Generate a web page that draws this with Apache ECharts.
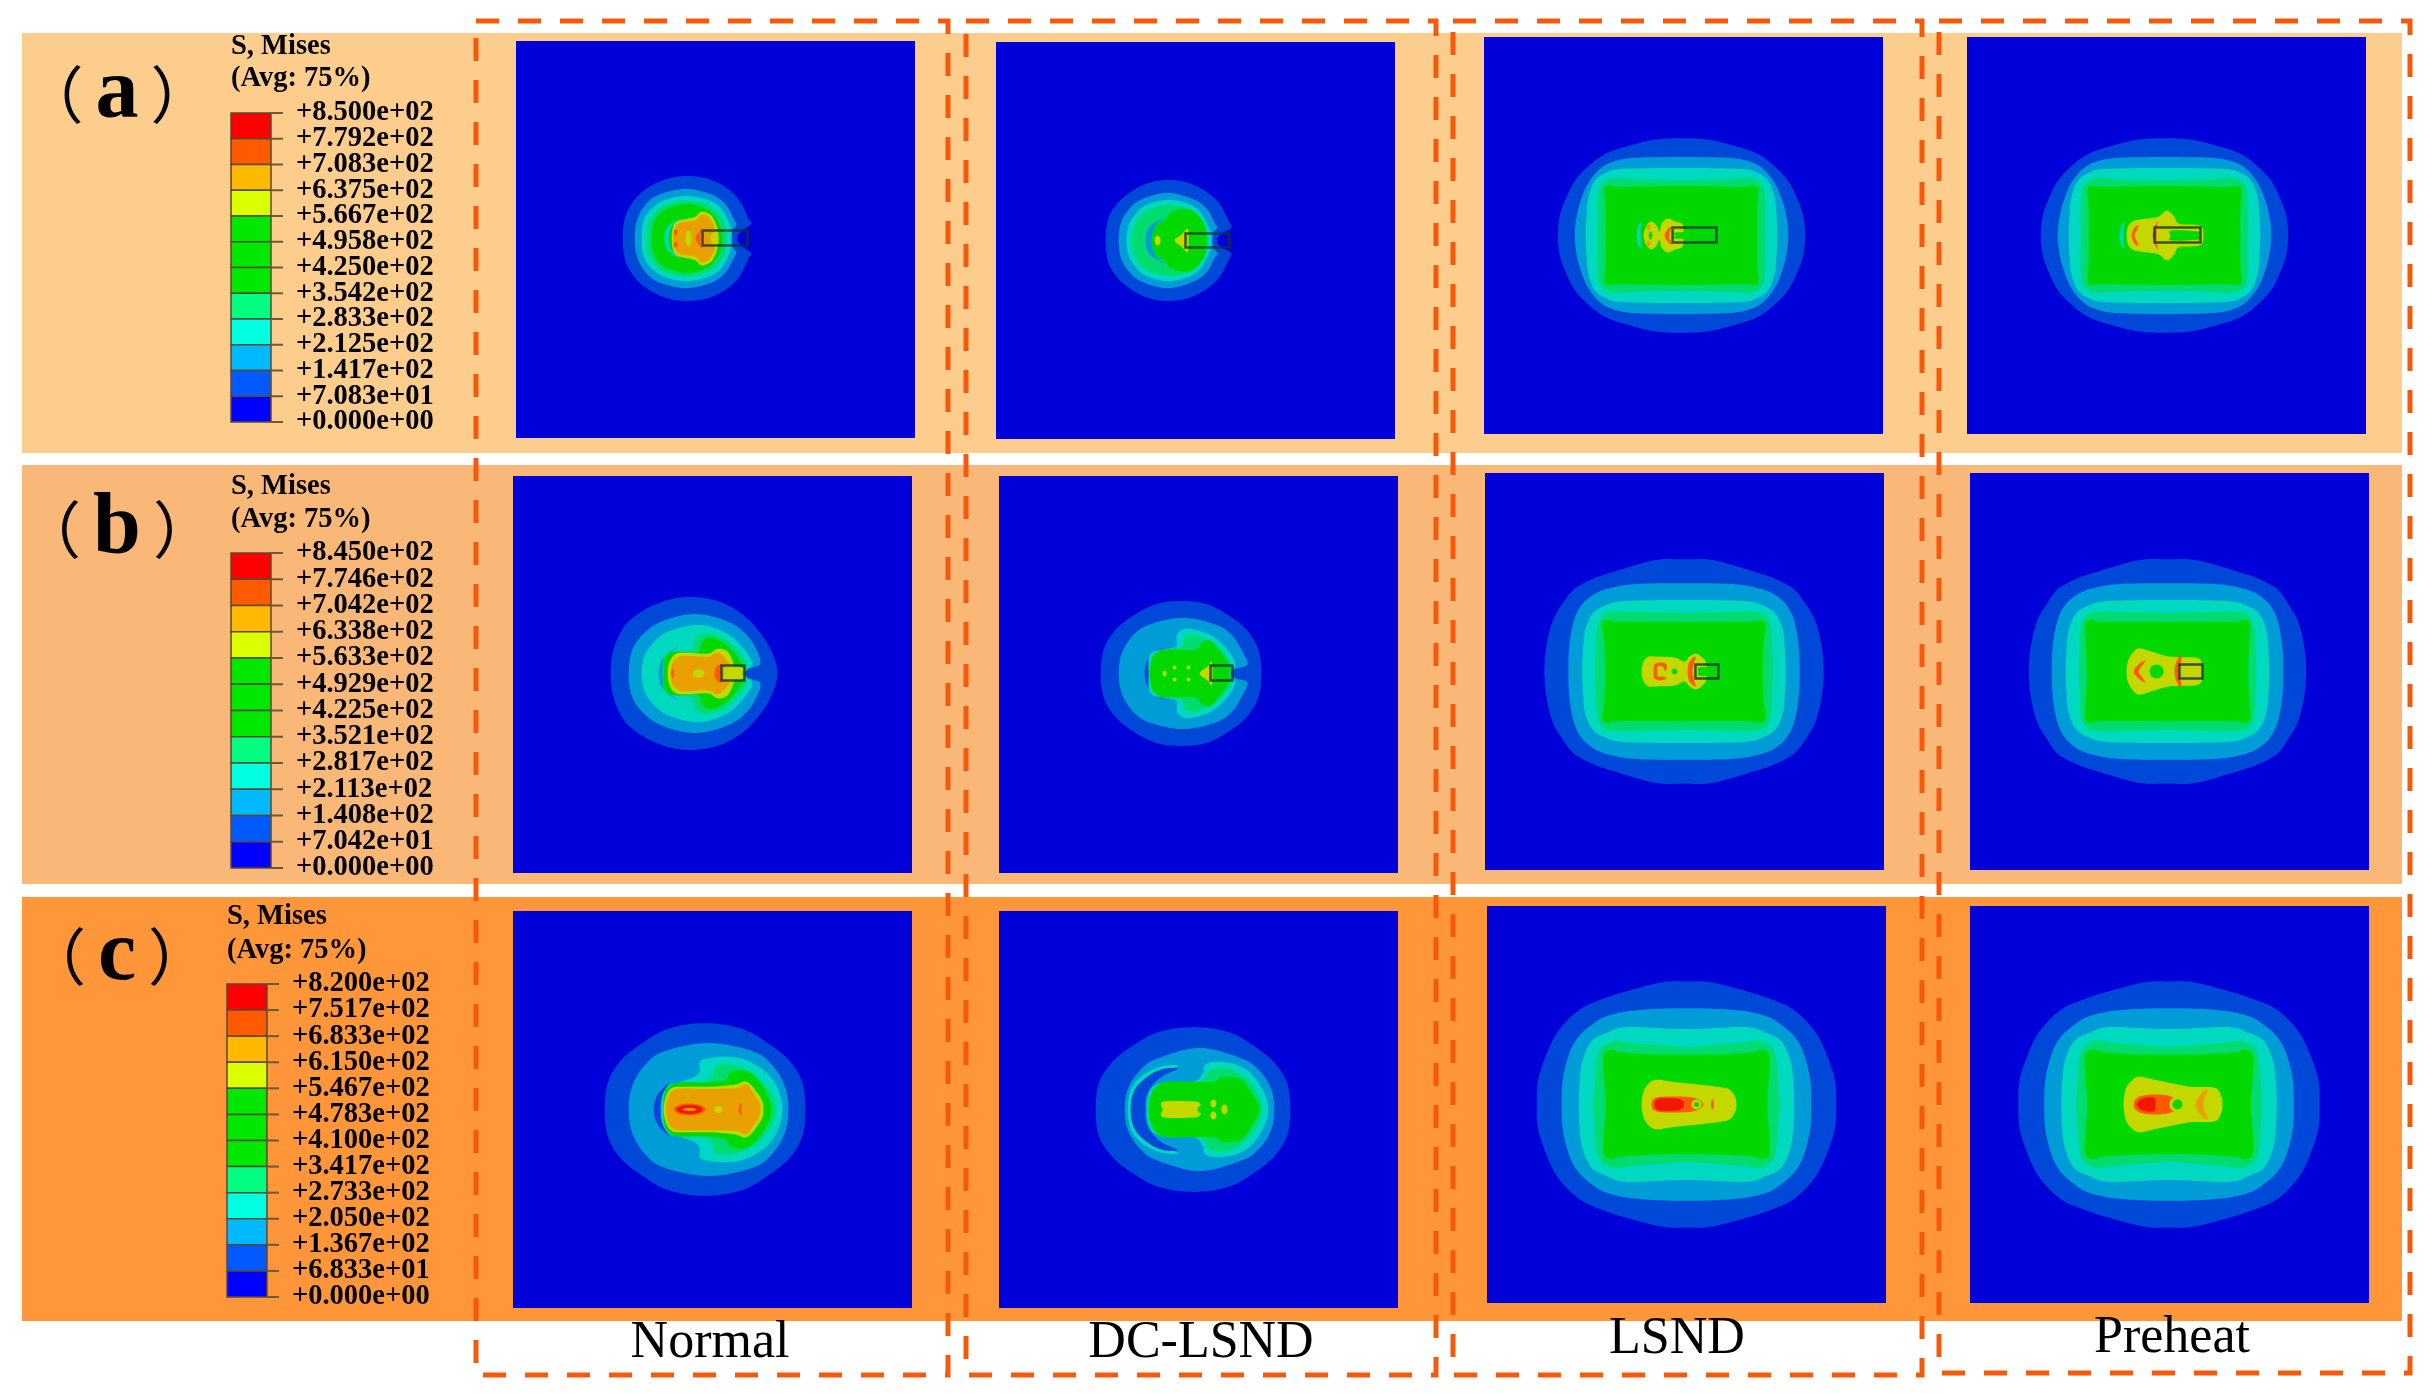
<!DOCTYPE html>
<html><head><meta charset="utf-8">
<style>html,body{margin:0;padding:0;background:#fff}#c{width:2436px;height:1394px}</style>
<script src="https://cdn.jsdelivr.net/npm/echarts@6/dist/echarts.min.js"></script>
</head><body><div id="c"></div>
<script>
// ---------- text and legend values ----------
const columnNames = ['Normal', 'DC-LSND', 'LSND', 'Preheat'];
const rowNames = ['a', 'b', 'c'];
const legendTitle = 'S, Mises';
const legendSub = '(Avg: 75%)';
const ticksA = ['+8.500e+02','+7.792e+02','+7.083e+02','+6.375e+02','+5.667e+02','+4.958e+02','+4.250e+02','+3.542e+02','+2.833e+02','+2.125e+02','+1.417e+02','+7.083e+01','+0.000e+00'];
const ticksB = ['+8.450e+02','+7.746e+02','+7.042e+02','+6.338e+02','+5.633e+02','+4.929e+02','+4.225e+02','+3.521e+02','+2.817e+02','+2.113e+02','+1.408e+02','+7.042e+01','+0.000e+00'];
const ticksC = ['+8.200e+02','+7.517e+02','+6.833e+02','+6.150e+02','+5.467e+02','+4.783e+02','+4.100e+02','+3.417e+02','+2.733e+02','+2.050e+02','+1.367e+02','+6.833e+01','+0.000e+00'];
const legendCells = ['#FF0000','#FF5A00','#FFB900','#DCFF00','#00E800','#00E800','#00E800','#00FF80','#00FFE0','#00B9FF','#005AFF','#0000FF'];
const contourColors = ['#0000D8','#0048D8','#009CD8','#00D8C0','#00DC70','#00D800','#C4D800','#E8A000','#FF5A00','#F01800'];

// ---------- contour outlines, in model units on a 0-400 plate ----------
// h: [h, colour, centre y, outline x/offset-y, mirrored about centre y]
// q: [q, colour, centre x, centre y, quarter outline, mirrored both ways]
// e: [e, colour, x, y, rx, ry]   s: [s, x0, x1, y0, y1]
const contourA1 = [
 ['h',1,199,[[107,0],[109,-20],[116,-35],[128,-48],[148,-59],[172,-63],[196,-59],[215,-48],[226,-35],[233,-20],[236,-15],[228,-9],[222,-3],[222,0]]],
 ['h',2,199,[[119,0],[121,-17],[129,-33],[143,-44],[170,-50],[197,-44],[211,-33],[218,-20],[221,-14],[217,-8],[216,0]]],
 ['h',3,199,[[126,0],[128,-18],[137,-31],[150,-39],[171,-43],[192,-39],[205,-31],[213,-17],[216,-8],[216,0]]],
 ['h',4,199,[[131,0],[133,-16],[141,-28],[153,-35],[171,-38],[189,-35],[201,-27],[209,-15],[211,0]]],
 ['h',5,199,[[136,0],[138,-15],[145,-26],[156,-32],[171,-35],[186,-32],[197,-25],[204,-14],[207,0]]],
 ['h',3,199,[[149,0],[152,-12],[166,-21],[156,-12],[153,0]]],
 ['h',6,199,[[156,0],[158,-13],[163,-18],[172,-20],[180,-22],[186,-27],[196,-23],[202,-10],[203,0]]],
 ['h',7,199,[[158,0],[160,-12],[165,-16],[172,-17],[181,-19],[186,-24],[194,-21],[199,-10],[199,0]]],
 ['e',6,199,199,4,6],['e',6,173,199,3,8],
 ['e',8,160,193,2,3],['e',8,160,205,2,3],
 ['h',8,199,[[180,0],[183,-6],[187,-10],[185,-5],[185,0]]],
 ['s',187,232,191,206]
];
const contourA2 = [
 ['h',1,200,[[110,0],[112,-20],[119,-34],[131,-46],[150,-57],[173,-61],[196,-57],[215,-46],[226,-34],[233,-20],[236,-13],[228,-8],[222,-3],[222,0]]],
 ['h',2,200,[[123,0],[125,-17],[133,-31],[145,-41],[172,-48],[199,-41],[212,-31],[219,-18],[222,-13],[218,-8],[217,0]]],
 ['h',3,200,[[131,0],[133,-15],[140,-27],[151,-36],[173,-41],[195,-36],[206,-27],[213,-14],[216,-7],[216,0]]],
 ['h',4,200,[[136,0],[138,-14],[145,-25],[155,-32],[174,-36],[193,-32],[203,-24],[210,-13],[212,0]]],
 ['h',2,200,[[150,0],[154,-14],[171,-24],[160,-15],[156,0]]],
 ['h',5,200,[[156,0],[160,-14],[170,-21],[172,-25],[179,-30],[195,-31],[207,-20],[211,-8],[211,0]]],
 ['e',6,162,200,3,5],
 ['h',6,200,[[179,0],[186,-6],[192,-12],[193,-5],[193,0]]],
 ['s',190,234,193,207]
];
const contourA3 = [
 ['q',1,198,200,[[124,0],[122,20],[116,37],[107,55],[93,70],[80,80],[64,87],[30,96],[0,98]]],
 ['q',2,198,200,[[107,0],[105,20],[100,38],[94,52],[84,65],[72,73],[50,78],[0,79]]],
 ['q',3,198,200,[[96,0],[95,25],[93,40],[87,55],[76,63],[60,67],[0,68]]],
 ['q',4,198,200,[[84,0],[84,30],[83,45],[78,54],[68,58],[50,57],[0,56]]],
 ['q',5,198,200,[[76,0],[76,25],[77,47],[72,50],[60,49],[0,50]]],
 ['h',3,200,[[153,0],[155,-10],[158,-13],[157,-8],[157,0]]],
 ['h',6,200,[[160,0],[163,-10],[168,-14],[173,-10],[176,-4],[178,-12],[184,-17],[192,-14],[199,-11],[200,0]]],
 ['e',5,167,200,2,4],
 ['e',7,165,192,2,3],['e',7,165,208,2,3],
 ['h',8,200,[[181,0],[184,-6],[188,-9],[186,-3],[186,0]]],
 ['h',5,200,[[192,0],[192,-3],[228,-3],[228,0]]],
 ['s',189,233,192,207]
];
const contourA4 = [
 ['q',1,198,200,[[124,0],[122,20],[116,37],[107,55],[93,70],[80,80],[64,87],[30,96],[0,98]]],
 ['q',2,198,200,[[107,0],[105,20],[100,38],[94,52],[84,65],[72,73],[50,78],[0,79]]],
 ['q',3,198,200,[[96,0],[95,25],[93,40],[87,55],[76,63],[60,67],[0,68]]],
 ['q',4,198,200,[[84,0],[84,30],[83,45],[78,54],[68,58],[50,57],[0,56]]],
 ['q',5,198,200,[[76,0],[76,25],[77,47],[72,50],[60,49],[0,50]]],
 ['h',3,200,[[153,0],[155,-10],[158,-13],[157,-8],[157,0]]],
 ['h',6,200,[[160,0],[162,-10],[168,-15],[180,-17],[192,-19],[200,-25],[207,-20],[212,-12],[225,-11],[235,-9],[237,0]]],
 ['h',8,200,[[165,0],[168,-8],[172,-10],[170,-5],[168,0]]],
 ['h',8,200,[[186,0],[188,-8],[191,-14],[190,-5],[190,0]]],
 ['h',5,200,[[204,0],[205,-5],[232,-4],[232,0]]],
 ['s',188,234,192,207]
];
const contourB1 = [
 ['h',1,199,[[98,0],[101,-25],[112,-48],[130,-63],[155,-74],[181,-77],[208,-72],[232,-58],[250,-38],[261,-18],[265,0]]],
 ['h',2,199,[[116,0],[119,-22],[129,-38],[148,-52],[182,-60],[216,-52],[235,-38],[245,-22],[248,-10],[240,-6],[234,-4],[232,0]]],
 ['h',3,199,[[129,0],[131,-15],[138,-28],[155,-42],[187,-49],[215,-40],[232,-24],[240,-10],[234,-4],[232,0]]],
 ['h',2,199,[[146,0],[150,-15],[165,-27],[154,-15],[152,0]]],
 ['h',4,199,[[150,0],[152,-18],[162,-22],[178,-24],[183,-36],[195,-41],[215,-33],[230,-17],[235,-6],[232,0]]],
 ['h',5,199,[[151,0],[153,-17],[165,-22],[185,-21],[190,-32],[200,-36],[215,-28],[226,-15],[232,-4],[230,0]]],
 ['h',6,199,[[155,0],[157,-12],[162,-19],[170,-21],[195,-20],[205,-25],[215,-22],[221,-10],[222,0]]],
 ['h',7,199,[[158,0],[160,-11],[165,-16],[172,-18],[195,-17],[205,-21],[213,-15],[218,-7],[219,0]]],
 ['e',6,186,199,6,4],
 ['e',8,160,199,1.5,5],
 ['h',8,199,[[202,0],[204,-7],[209,-9],[208,-3],[208,0]]],
 ['h',6,199,[[212,0],[212,-6],[230,-6],[230,0]]],
 ['s',209,232,191,206]
];
const contourB2 = [
 ['h',1,199,[[102,0],[105,-24],[116,-43],[134,-58],[158,-70],[183,-73],[208,-70],[231,-58],[249,-43],[260,-24],[263,0]]],
 ['h',2,199,[[120,0],[123,-20],[134,-38],[150,-49],[184,-56],[218,-49],[234,-38],[245,-20],[249,-9],[238,-5],[232,0]]],
 ['h',1,199,[[146,0],[150,-15],[165,-27],[154,-15],[151,0]]],
 ['h',3,199,[[150,0],[152,-20],[170,-25],[178,-28],[179,-40],[191,-45],[215,-37],[232,-20],[237,-8],[232,-3],[232,0]]],
 ['h',4,199,[[151,0],[154,-18],[170,-24],[183,-27],[187,-37],[200,-38],[222,-25],[233,-8],[232,0]]],
 ['h',5,199,[[151,0],[153,-14],[158,-21],[166,-24],[195,-24],[203,-30],[212,-33],[225,-18],[232,-6],[230,0]]],
 ['e',6,166,199,2,3],['e',6,176,193,2,2],['e',6,176,205,2,2],['e',6,190,193,2,2],['e',6,190,205,2,2],
 ['h',6,199,[[201,0],[209,-7],[213,-12],[214,-5],[214,0]]],
 ['s',212,234,191,206]
];
const contourB3 = [
 ['q',1,199.5,200,[[140,0],[138,25],[132,50],[122,68],[110,83],[92,93],[72,100],[30,112],[0,113]]],
 ['q',2,199.5,200,[[116,0],[115,25],[111,49],[104,65],[93,76],[78,83],[50,88],[0,89]]],
 ['q',3,199.5,200,[[102,0],[101,25],[99,42],[92,58],[80,66],[60,71],[0,72]]],
 ['q',4,199.5,200,[[89,0],[88,30],[87,45],[81,57],[70,60],[50,60],[0,59]]],
 ['q',5,199.5,200,[[79,0],[80,30],[82,47],[76,52],[65,50],[0,50]]],
 ['h',6,200,[[157,0],[159,-10],[164,-15],[172,-15],[190,-14],[200,-10],[205,-15],[212,-18],[220,-12],[222,-6],[222,0]]],
 ['h',8,200,[[169,0],[170,-7],[176,-9],[182,-7],[181,0],[178,-5],[173,-5],[173,0]]],
 ['h',8,200,[[203,0],[205,-10],[211,-15],[209,-7],[208,0]]],
 ['e',5,190,200,3,3],
 ['h',5,200,[[214,0],[214,-4],[224,-4],[224,0]]],
 ['s',211,234,193,207]
];
const contourB4 = [
 ['q',1,198,200,[[139,0],[137,25],[131,50],[121,68],[110,83],[92,93],[72,100],[30,112],[0,113]]],
 ['q',2,198,200,[[116,0],[115,25],[111,49],[104,65],[93,76],[78,83],[50,88],[0,89]]],
 ['q',3,198,200,[[102,0],[101,25],[99,42],[92,58],[80,66],[60,71],[0,72]]],
 ['q',4,198,200,[[89,0],[88,30],[87,45],[81,57],[70,60],[50,60],[0,59]]],
 ['q',5,198,200,[[81,0],[82,30],[83,47],[77,52],[65,50],[0,50]]],
 ['h',6,200,[[157,0],[159,-12],[168,-23],[182,-20],[200,-15],[225,-14],[232,-10],[233,0]]],
 ['h',8,200,[[164,0],[170,-8],[176,-11],[172,-5],[169,0]]],
 ['h',8,200,[[205,0],[207,-10],[212,-17],[211,-7],[210,0]]],
 ['e',5,187,200,7,7],
 ['s',210,233,193,207]
];
const contourC1 = [
 ['h',1,200,[[92,0],[95,-27],[107,-48],[127,-65],[155,-81],[192,-87],[230,-81],[258,-65],[278,-48],[290,-27],[293,0]]],
 ['h',2,200,[[116,0],[119,-22],[130,-42],[150,-58],[196,-67],[242,-58],[262,-42],[273,-22],[276,0]]],
 ['h',3,200,[[148,0],[152,-22],[165,-27],[180,-32],[187,-38],[188,-49],[205,-53],[226,-52],[245,-44],[258,-33],[267,-17],[270,0]]],
 ['h',1,200,[[141,0],[145,-15],[157,-27],[150,-15],[148,0]]],
 ['h',4,200,[[150,0],[153,-20],[165,-26],[190,-28],[200,-34],[204,-44],[220,-45],[240,-37],[250,-28],[260,-15],[264,0]]],
 ['h',5,200,[[151,0],[153,-18],[165,-27],[195,-27],[213,-30],[219,-38],[236,-38],[250,-24],[257,-10],[259,0]]],
 ['h',6,200,[[151,0],[154,-15],[160,-22],[170,-23],[200,-23],[222,-25],[234,-28],[244,-18],[250,-8],[251,0]]],
 ['h',7,200,[[153,0],[156,-14],[162,-20],[170,-21],[205,-21],[225,-22],[234,-25],[242,-15],[247,-7],[248,0]]],
 ['e',8,177,200,16,6],['e',9,177,200,13,4.5],['e',7,177,200,7,1.5],
 ['e',6,206,200,4,3.5],
 ['h',8,200,[[226,0],[227,-4],[229,-6],[229,0]]]
];
const contourC2 = [
 ['h',1,200,[[97,0],[100,-26],[112,-46],[132,-63],[160,-78],[195,-83],[230,-78],[257,-63],[277,-46],[289,-26],[292,0]]],
 ['h',2,200,[[126,0],[129,-20],[140,-38],[158,-51],[201,-62],[244,-51],[262,-38],[273,-20],[276,0]]],
 ['h',3,200,[[129,0],[133,-22],[146,-36],[165,-44],[180,-44],[165,-38],[150,-27],[136,-10],[132,0]]],
 ['h',1,200,[[132,0],[136,-20],[150,-34],[165,-41],[179,-41],[163,-33],[152,-22],[147,-10],[147,0]]],
 ['h',3,200,[[148,0],[152,-20],[165,-27],[195,-28],[204,-36],[208,-46],[225,-48],[245,-42],[258,-30],[267,-14],[270,0]]],
 ['h',4,200,[[149,0],[153,-19],[165,-27],[200,-28],[208,-36],[214,-41],[228,-42],[245,-33],[258,-18],[264,0]]],
 ['h',5,200,[[150,0],[153,-15],[159,-24],[168,-28],[190,-28],[215,-28],[225,-33],[243,-30],[255,-14],[261,0]]],
 ['h',6,200,[[164,0],[165,-8],[196,-8],[202,-5],[206,0]]],
 ['e',5,203,200,4,4],
 ['e',6,226,200,3,5],['e',6,215,194,3,4],['e',6,215,206,3,4]
];
const contourC3 = [
 ['q',1,200,200,[[150,0],[148,28],[135,63],[122,82],[105,97],[85,106],[64,113],[25,123],[0,124]]],
 ['q',2,200,200,[[125,0],[124,25],[118,50],[110,66],[98,78],[80,89],[50,95],[0,97]]],
 ['q',3,200,200,[[108,0],[107,25],[104,45],[95,64],[80,72],[60,78],[0,76]]],
 ['q',4,200,200,[[93,0],[91,30],[90,45],[85,58],[72,64],[55,62],[30,60],[0,58]]],
 ['q',5,200,200,[[81,0],[83,30],[83,50],[75,55],[60,52],[0,50]]],
 ['h',6,200,[[155,0],[157,-13],[162,-21],[170,-25],[185,-23],[230,-18],[243,-15],[249,-7],[250,0]]],
 ['h',8,200,[[165,0],[170,-7],[195,-8],[210,-6],[217,0]]],
 ['h',9,200,[[168,0],[172,-6],[190,-6],[197,-3],[197,0]]],
 ['e',6,210,200,5,5],['e',5,210,200,2.5,2.5],
 ['e',8,226,200,1.5,5]
];
const contourC4 = [
 ['q',1,199.5,200,[[151,0],[149,28],[136,63],[123,82],[106,97],[85,106],[64,113],[25,123],[0,124]]],
 ['q',2,199.5,200,[[125,0],[124,25],[118,50],[110,66],[98,78],[80,89],[50,95],[0,97]]],
 ['q',3,199.5,200,[[108,0],[107,25],[104,45],[95,64],[80,72],[60,78],[0,76]]],
 ['q',4,199.5,200,[[93,0],[91,30],[90,45],[85,58],[72,64],[55,62],[30,60],[0,58]]],
 ['q',5,199.5,200,[[82,0],[84,30],[84,50],[75,55],[60,52],[0,50]]],
 ['h',6,200,[[154,0],[156,-15],[162,-24],[170,-28],[185,-25],[220,-18],[245,-17],[252,-8],[253,0]]],
 ['h',8,200,[[164,0],[170,-8],[190,-10],[208,-6],[212,0]]],
 ['h',9,200,[[167,0],[173,-6],[184,-7],[186,-3],[186,0]]],
 ['e',6,208,200,8,8],['e',5,208,200,5,5],
 ['h',7,200,[[226,0],[231,-10],[238,-15],[235,-6],[234,0]]]
];
const contourGrid = [
 [contourA1, contourA2, contourA3, contourA4],
 [contourB1, contourB2, contourB3, contourB4],
 [contourC1, contourC2, contourC3, contourC4]
];

// ---------- page layout ----------
const bandBoxes = [[22,33,2380,420,'#FDCD8D'],[22,465,2380,419,'#F9B878'],[22,897,2380,424,'#FF963A']];
const plateBoxes = [
 [[516,41],[996,42],[1484,37],[1967,37]],
 [[513,476],[999,476],[1485,473],[1970,473]],
 [[513,911],[999,911],[1487,906],[1970,906]]
];
const dashBoxes = [[476,21,472,1354],[966,21,470,1354],[1453,21,469,1354],[1939,21,471,1352]];
const columnLabelPos = [[710,1343],[1201,1343],[1677,1339],[2172,1338]];
const legendBoxes = [[231,113,40,309,47,79],[231,553,40,315,487,520],[227,984,40,313,917,951]];
const rowLabelY = [95,530,957];
const rowTicks = [ticksA, ticksB, ticksC];

const serif = '"Liberation Serif","Times New Roman",serif';

function closedOutline(layer){
  let out=[];
  if(layer[0]==='h'){
    const cy=layer[2], p=layer[3];
    out=p.map(a=>[a[0],cy+a[1]]);
    for(let i=p.length-1;i>=0;i--){ if(p[i][1]!==0) out.push([p[i][0],cy-p[i][1]]); }
  } else {
    const cx=layer[2], cy=layer[3], p=layer[4];
    p.forEach(a=>out.push([cx-a[0],cy-a[1]]));
    for(let i=p.length-2;i>=0;i--) out.push([cx+p[i][0],cy-p[i][1]]);
    for(let i=1;i<p.length;i++) out.push([cx+p[i][0],cy+p[i][1]]);
    for(let i=p.length-2;i>0;i--) out.push([cx-p[i][0],cy+p[i][1]]);
  }
  // closed Catmull-Rom curve through the read outline points
  const n=out.length, res=[], steps=8;
  for(let i=0;i<n;i++){
    const p0=out[(i-1+n)%n],p1=out[i],p2=out[(i+1)%n],p3=out[(i+2)%n];
    for(let k=0;k<steps;k++){
      const t=k/steps,t2=t*t,t3=t2*t;
      res.push([0,1].map(d=>0.5*(2*p1[d]+(p2[d]-p0[d])*t+(2*p0[d]-5*p1[d]+4*p2[d]-p3[d])*t2+(3*p1[d]-p0[d]-3*p2[d]+p3[d])*t3)));
    }
  }
  return res;
}

const grids=[], xAxes=[], yAxes=[], series=[];
contourGrid.forEach((row,r)=>row.forEach((layers,c)=>{
  const idx=grids.length, b=plateBoxes[r][c];
  grids.push({left:b[0],top:b[1],width:399,height:397,show:true,backgroundColor:contourColors[0],borderWidth:0});
  xAxes.push({type:'value',gridIndex:idx,min:0,max:400,show:false});
  yAxes.push({type:'value',gridIndex:idx,min:0,max:400,inverse:true,show:false});
  series.push({
    type:'custom',coordinateSystem:'cartesian2d',xAxisIndex:idx,yAxisIndex:idx,silent:true,clip:true,
    data:layers.map((l,i)=>[i,0]),
    renderItem:function(params,api){
      const l=layers[params.dataIndex];
      if(l[0]==='e'){
        const p=api.coord([l[2],l[3]]), s=api.size([l[4],l[5]]);
        return {type:'ellipse',shape:{cx:p[0],cy:p[1],rx:s[0],ry:s[1]},style:{fill:contourColors[l[1]]}};
      }
      if(l[0]==='s'){
        const a=api.coord([l[1],l[3]]), z=api.coord([l[2],l[4]]);
        return {type:'rect',shape:{x:a[0],y:a[1],width:z[0]-a[0],height:z[1]-a[1]},
          style:{fill:null,stroke:'rgba(20,50,60,0.8)',lineWidth:2.5}};
      }
      return {type:'polygon',shape:{points:closedOutline(l).map(q=>api.coord(q))},
        style:{fill:contourColors[l[1]]}};
    }
  });
}));

rowTicks.forEach((ticks,r)=>{
  const idx=grids.length, b=legendBoxes[r];
  grids.push({left:b[0],top:b[1],width:b[2],height:b[3],show:false});
  xAxes.push({type:'value',gridIndex:idx,min:0,max:1,show:false});
  yAxes.push({type:'category',gridIndex:idx,data:ticks,inverse:true,boundaryGap:false,position:'right',
    axisLine:{show:false},splitLine:{show:false},axisTick:{show:false},
    axisLabel:{show:true,interval:0,margin:25,color:'#000',fontFamily:serif,fontWeight:'bold',fontSize:28.5,padding:[0,0,8,0]}});
  series.push({
    type:'custom',coordinateSystem:'cartesian2d',xAxisIndex:idx,yAxisIndex:idx,silent:true,clip:false,
    data:ticks.map((c,i)=>[0,i]),
    renderItem:function(params,api){
      const i=params.dataIndex, a=api.coord([0,i]), z=api.coord([1,i+1]), children=[];
      if(i<legendCells.length){
        children.push({type:'rect',shape:{x:a[0],y:a[1],width:z[0]-a[0],height:z[1]-a[1]},
          style:{fill:legendCells[i],stroke:'#5a4a30',lineWidth:1.5}});
      }
      children.push({type:'line',shape:{x1:z[0],y1:a[1],x2:z[0]+12,y2:a[1]},style:{stroke:'#6b5a3a',lineWidth:2}});
      return {type:'group',children:children};
    }
  });
});

const graphics=[];
bandBoxes.forEach(b=>graphics.push({type:'rect',z:-10,silent:true,shape:{x:b[0],y:b[1],width:b[2],height:b[3]},style:{fill:b[4]}}));
dashBoxes.forEach(b=>graphics.push({type:'rect',z:50,silent:true,shape:{x:b[0],y:b[1],width:b[2],height:b[3]},
  style:{fill:null,stroke:'#F55A0A',lineWidth:5,lineDash:[23,19]}}));
columnNames.forEach((t,i)=>graphics.push({type:'text',z:60,silent:true,x:columnLabelPos[i][0],y:columnLabelPos[i][1],
  style:{text:t,fontFamily:serif,fontSize:52,fill:'#000',align:'center',verticalAlign:'middle'}}));
rowNames.forEach((t,i)=>{
  graphics.push({type:'text',z:60,silent:true,x:117,y:rowLabelY[i],
    style:{text:'{p|（}{l|'+t+'}{p|）}',align:'center',verticalAlign:'middle',fill:'#000',
      rich:{p:{fontFamily:'"Noto Sans CJK SC"',fontSize:62,fill:'#000'},
            l:{fontFamily:serif,fontWeight:'bold',fontSize:86,fill:'#000',padding:[0,12,0,12]}}}});
  const b=legendBoxes[i];
  graphics.push({type:'text',z:60,silent:true,x:b[0],y:b[4],style:{text:legendTitle,fontFamily:serif,fontWeight:'bold',fontSize:28.5,fill:'#000',verticalAlign:'middle'}});
  graphics.push({type:'text',z:60,silent:true,x:b[0],y:b[5],style:{text:legendSub,fontFamily:serif,fontWeight:'bold',fontSize:28.5,fill:'#000',verticalAlign:'middle'}});
});

const chart=echarts.init(document.getElementById('c'),null,{renderer:'canvas'});
chart.setOption({animation:false,backgroundColor:'#fff',grid:grids,xAxis:xAxes,yAxis:yAxes,series:series,graphic:{elements:graphics}});
</script></body></html>
